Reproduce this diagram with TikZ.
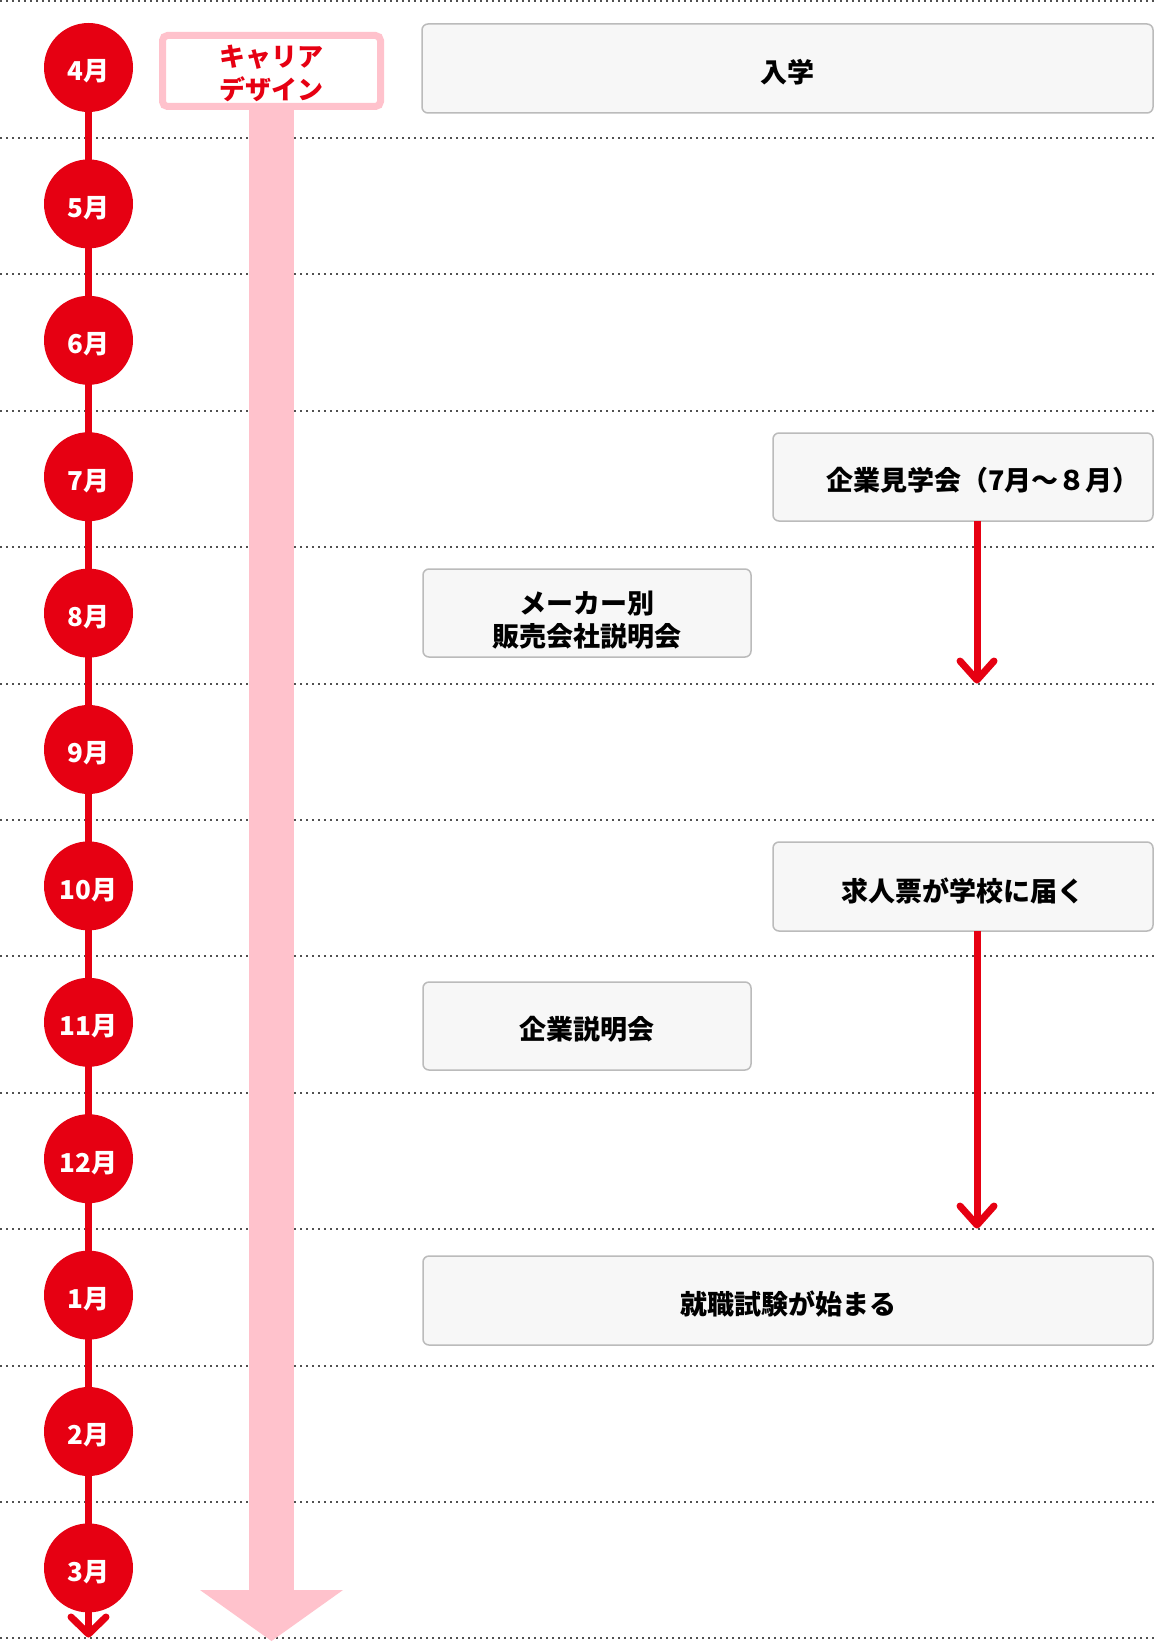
\documentclass[tikz,border=0pt]{standalone}
\usepackage{fontspec}
\setmainfont{Noto Sans CJK JP}
\usetikzlibrary{calc}
\definecolor{brand}{RGB}{230,0,18}
\definecolor{pinkc}{RGB}{255,194,204}
\definecolor{boxfill}{RGB}{247,247,247}
\definecolor{boxline}{RGB}{187,187,187}
\definecolor{dotc}{RGB}{80,80,80}
\begin{document}
\begin{tikzpicture}[x=1pt,y=-1pt,
  monthdot/.style={circle,fill=brand,minimum size=89pt,inner sep=0pt},
  monthlabel/.style={inner sep=0pt,text=white,font=\fontsize{26}{26}\selectfont\bfseries},
  eventbox/.style={draw=boxline,line width=1.5pt,fill=boxfill,rounded corners=6pt},
  eventtext/.style={font=\fontsize{27}{33}\selectfont\bfseries,text=black,align=center,inner sep=0pt},
  rowline/.style={dotc,line width=2pt,dash pattern=on 2pt off 4pt},
  redline/.style={brand,line width=7pt},
  chev/.style={brand,line width=7pt,line cap=round,line join=round}]
\useasboundingbox (0,0) rectangle (1155,1643);
\fill[white] (0,0) rectangle (1155,1643);
% dotted row lines
\foreach \k in {0,...,12}{
  \draw[rowline] (0,{1.5+136.4*\k}) -- (1155,{1.5+136.4*\k});
}
% pink career design arrow
\fill[pinkc] (249,105) rectangle (294,1591);
\fill[pinkc] (200,1590) -- (343,1590) -- (271.5,1641) -- cycle;
\node[draw=pinkc,line width=7pt,fill=white,rounded corners=5pt,minimum width=218pt,minimum height=71pt,inner sep=0pt] (career) at (271.5,71) {};
\node[text=brand,font=\fontsize{26}{33}\selectfont\bfseries,align=center,inner sep=0pt] (careertext) at (271.5,73) {キャリア\\デザイン};
% red timeline
\coordinate (tlend) at (88.5,1634);
\draw[redline] (88.5,67.5) -- (tlend);
\draw[chev] (71,1617) -- (tlend) -- (106,1617);
% month circles
\foreach \m [count=\i from 0] in {4,5,6,7,8,9,10,11,12,1,2,3}{
  \node[monthdot] (m\m) at (88.5,{67.5+136.4*\i}) {};
  \node[monthlabel] (t\m) at ($(m\m)+(0,4)$) {\m 月};
}
% event boxes
\draw[eventbox] (422,24) rectangle (1153,113);
\node[eventtext] (nyugaku) at (787.5,72) {入学};
\draw[eventbox] (773,433) rectangle (1153,521);
\coordinate (kengakuB) at (977,521);
\node[eventtext,anchor=west] (kengaku) at (826,480) {企業見学会（7月～８月）};
\draw[eventbox] (423,569) rectangle (751,657);
\node[eventtext] (maker) at (587,620) {メーカー別\\販売会社説明会};
\draw[eventbox] (773,842) rectangle (1153,931);
\coordinate (kyujinB) at (977,931);
\node[eventtext] (kyujin) at (963,891) {求人票が学校に届く};
\draw[eventbox] (423,982) rectangle (751,1070);
\node[eventtext] (setsumei) at (587,1029) {企業説明会};
\draw[eventbox] (423,1256) rectangle (1153,1345);
\node[eventtext] (shiken) at (788,1304) {就職試験が始まる};
% red arrows
\coordinate (a1) at (977,680);
\coordinate (a2) at (977,1225);
\draw[redline] (kengakuB) -- (a1);
\draw[chev] ($(a1)+(-17,-19)$) -- (a1) -- ($(a1)+(17,-19)$);
\draw[redline] (kyujinB) -- (a2);
\draw[chev] ($(a2)+(-17,-19)$) -- (a2) -- ($(a2)+(17,-19)$);
\end{tikzpicture}
\end{document}
